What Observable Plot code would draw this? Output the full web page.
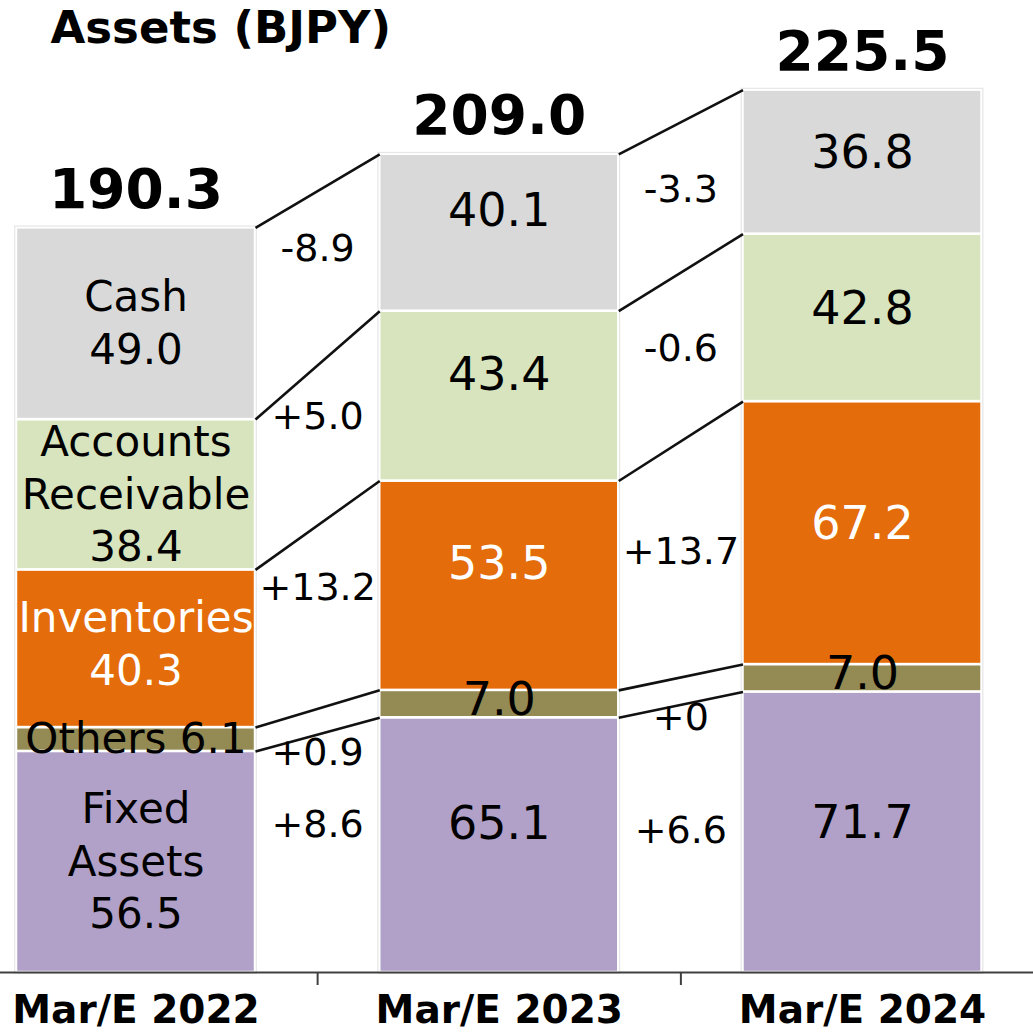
<!DOCTYPE html>
<html>
<head>
<meta charset="utf-8">
<script src="https://cdn.jsdelivr.net/npm/d3@7"></script>
<script src="https://cdn.jsdelivr.net/npm/@observablehq/plot@0.6"></script>
<style>
  html, body { margin: 0; padding: 0; background: #fff; }
  #chart svg { display: block; }
</style>
</head>
<body>
<div id="chart"></div>
<script>
// ---- data ----
const title = "Assets (BJPY)";
const years = ["Mar/E 2022", "Mar/E 2023", "Mar/E 2024"];
const totals = [190.3, 209.0, 225.5];
// stacked bottom -> top
const categories = ["Fixed Assets", "Others", "Inventories", "Accounts Receivable", "Cash"];
const categoryLabels = ["Fixed\nAssets", "Others", "Inventories", "Accounts\nReceivable", "Cash"];
const fixedAssets = [56.5, 65.1, 71.7];
const others = [6.1, 7.0, 7.0];
const inventories = [40.3, 53.5, 67.2];
const receivables = [38.4, 43.4, 42.8];
const cash = [49.0, 40.1, 36.8];
const colors = ["#b1a0c7", "#948a54", "#e46c0a", "#d7e4bd", "#d9d9d9"];

// ---- derived tables ----
const series = [fixedAssets, others, inventories, receivables, cash];
const HW = 0.329; // half bar width in x units
const segments = [];
const bars = [];
years.forEach((year, i) => {
  let base = 0;
  series.forEach((vals, k) => {
    const v = vals[i];
    segments.push({i, k, year, category: categories[k], value: v, y1: base, y2: base + v, mid: base + v / 2,
      thin: v < 10, white: categories[k] === "Inventories",
      label: i === 0 ? categoryLabels[k] + (v < 10 ? " " : "\n") + v.toFixed(1) : v.toFixed(1)});
    base += v;
  });
  bars.push({i, year, top: base, total: totals[i]});
});
const seg = (i, k) => segments.find(d => d.i === i && d.k === k);
const connectors = [];
const deltas = [];
for (let i = 0; i < years.length - 1; i++) {
  categories.forEach((c, k) => {
    const a = seg(i, k), b = seg(i + 1, k);
    connectors.push({i, k, ya: a.y2, yb: b.y2});
    const d = Math.round((b.value - a.value) * 10) / 10;
    deltas.push({i, k, x: i + 0.5, y: (a.mid + b.mid) / 2, thin: a.thin,
      text: d === 0 ? "+0" : (d > 0 ? "+" : "") + d.toFixed(1)});
  });
}

const font = "DejaVu Sans";
const txt = (data, opts) => Plot.text(data, {fontFamily: font, fill: "#000", ...opts});

// label nudges (px) per bar / gap
const valueDy = [0, -21, -9];
const deltaDy = [-29, -8];
const deltaThinDy = [31, 27];

const valueMarks = [];
[1, 2].forEach(i => {
  valueMarks.push(txt(segments.filter(d => d.i === i && !d.thin && !d.white), {x: "i", y: "mid", text: "label", fontSize: 46, dy: valueDy[i]}));
  valueMarks.push(txt(segments.filter(d => d.i === i && d.white), {x: "i", y: "mid", text: "label", fontSize: 46, dy: valueDy[i], fill: "white"}));
});
const deltaMarks = [];
[0, 1].forEach(i => {
  deltaMarks.push(txt(deltas.filter(d => d.i === i && !d.thin), {x: "x", y: "y", text: "text", fontSize: 38, dy: deltaDy[i]}));
  deltaMarks.push(txt(deltas.filter(d => d.i === i && d.thin), {x: "x", y: "y", text: "text", fontSize: 38, dy: deltaThinDy[i]}));
});

const chart = Plot.plot({
  width: 1033,
  height: 1033,
  marginTop: 0,
  marginLeft: 0,
  marginRight: 0,
  marginBottom: 61,
  style: {fontFamily: font, background: "#fff"},
  x: {type: "linear", domain: [-0.373, 2.4707], axis: null},
  y: {domain: [0, 248.4], axis: null},
  color: {domain: categories, range: colors},
  marks: [
    Plot.rect(segments, {x1: d => d.i - HW, x2: d => d.i + HW, y1: "y1", y2: "y2", fill: "category", stroke: "white", strokeWidth: 2.5}),
    Plot.rect(bars, {x1: d => d.i - HW, x2: d => d.i + HW, y1: 0, y2: "top", fill: "none", stroke: "#e6e6e6", strokeWidth: 1.2, inset: -1.3}),
    Plot.link(connectors, {x1: d => d.i + HW, y1: "ya", x2: d => d.i + 1 - HW, y2: "yb", stroke: "#111", strokeWidth: 2.6}),
    Plot.ruleY([0], {stroke: "#404040", strokeWidth: 2}),
    Plot.axisX({ticks: [0.5, 1.5], tickSize: 13, tickFormat: () => "", stroke: "#404040", strokeWidth: 2}),
    // totals
    txt(bars, {x: "i", y: "top", text: d => d.total.toFixed(1), fontSize: 55, fontWeight: "bold", lineAnchor: "bottom", dy: -20}),
    // first bar labels (names + values)
    txt(segments.filter(d => d.i === 0 && !d.white), {x: "i", y: "mid", text: "label", fontSize: 42, lineHeight: 1.25, dy: -3}),
    txt(segments.filter(d => d.i === 0 && d.white), {x: "i", y: "mid", text: "label", fontSize: 42, lineHeight: 1.25, dy: -7, fill: "white"}),
    // other bars: values only
    ...valueMarks,
    txt(segments.filter(d => d.i > 0 && d.thin), {x: "i", y: "mid", text: "label", fontSize: 46, dy: -4}),
    // deltas
    ...deltaMarks,
    // category axis labels
    txt(bars, {x: "i", y: 0, text: "year", fontSize: 39, fontWeight: "bold", lineAnchor: "bottom", dy: 50}),
    // title
    txt([title], {frameAnchor: "top-left", text: d => d, dx: 50, dy: 11, fontSize: 45, fontWeight: "bold", textAnchor: "start", lineAnchor: "top"})
  ]
});
document.getElementById("chart").append(chart);
</script>
</body>
</html>
